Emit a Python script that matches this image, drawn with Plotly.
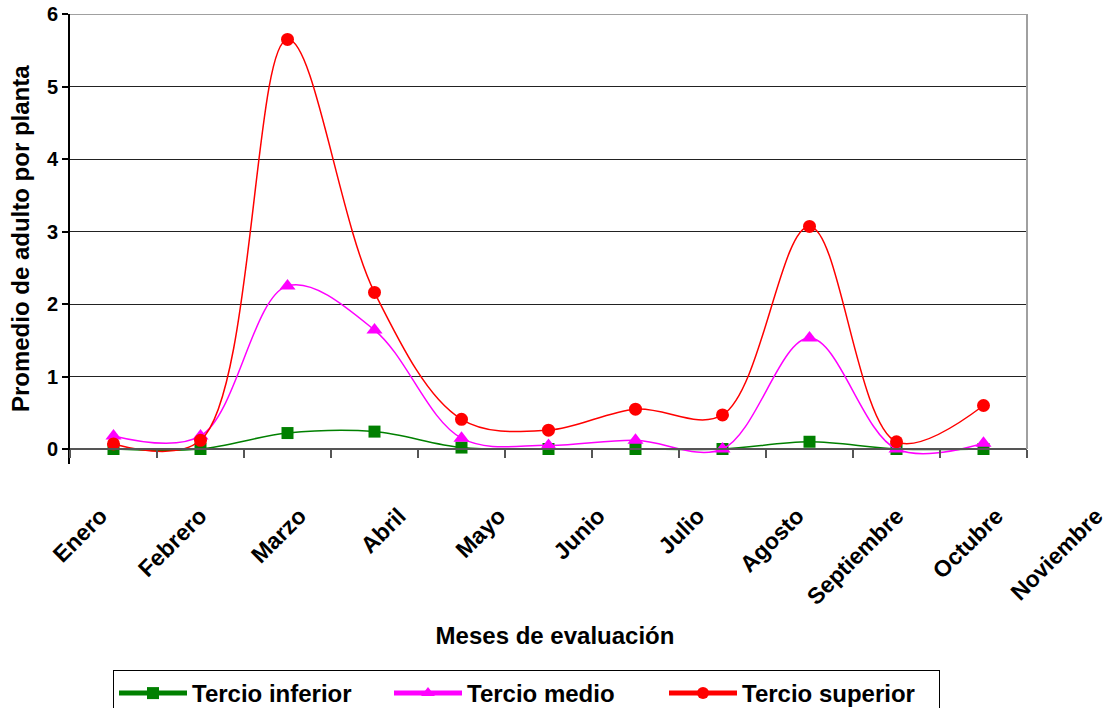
import plotly.graph_objects as go

meses = ["Enero", "Febrero", "Marzo", "Abril", "Mayo", "Junio", "Julio",
         "Agosto", "Septiembre", "Octubre", "Noviembre"]
tercio_inferior = [0.0, 0.0, 0.22, 0.24, 0.02, 0.0, 0.0, 0.0, 0.10, 0.0, 0.0]
tercio_medio = [0.18, 0.18, 2.25, 1.64, 0.15, 0.05, 0.12, 0.0, 1.53, 0.0, 0.08]
tercio_superior = [0.07, 0.12, 5.65, 2.16, 0.41, 0.26, 0.55, 0.47, 3.07, 0.10, 0.60]
y_ticks = [0, 1, 2, 3, 4, 5, 6]

W, H = 1110, 708
FONT = "Arial, Liberation Sans, sans-serif"

idx = list(range(len(meses)))

fig = go.Figure()
series = [
    ("Tercio inferior", tercio_inferior, "#008000", "square", 12),
    ("Tercio medio", tercio_medio, "#FF00FF", "triangle-up", 14),
    ("Tercio superior", tercio_superior, "#FF0000", "circle", 13),
]
for name, vals, col, sym, sz in series:
    fig.add_trace(go.Scatter(
        x=idx, y=vals, name=name, mode="lines+markers",
        line=dict(color=col, width=1.5, shape="spline", smoothing=1.0),
        marker=dict(color=col, symbol=sym, size=sz),
        cliponaxis=False,
    ))

# invisible helper trace so the month-label axis gets drawn
fig.add_trace(go.Scatter(
    x=[idx[0]], y=[0], xaxis="x2", yaxis="y2", mode="markers",
    marker=dict(opacity=0), showlegend=False, hoverinfo="skip",
))

y0px = 449
ytop = 14
px_per_unit = (y0px - ytop) / 6.0
ymin = -0.2
ybot = y0px + (-ymin) * px_per_unit

fig.update_layout(
    width=W, height=H,
    margin=dict(l=0, r=0, t=0, b=0, autoexpand=False),
    paper_bgcolor="white", plot_bgcolor="white",
    font=dict(family=FONT, color="black"),
    xaxis=dict(
        domain=[70 / W, 1027 / W],
        range=[-0.5, len(meses) - 0.5],
        anchor="free", position=1 - y0px / H,
        showgrid=False, zeroline=False,
        showline=True, linecolor="#555555", linewidth=2,
        ticks="outside", ticklen=8, tickcolor="#555555", tickwidth=2,
        tickmode="array", tickvals=[i - 0.5 for i in range(len(meses) + 1)],
        showticklabels=False,
    ),
    xaxis2=dict(
        domain=[0, 1],
        range=[-1.01, 10.14],
        anchor="free", position=1 - 497 / H,
        showgrid=False, zeroline=False, showline=False,
        ticks="", tickmode="array", tickvals=idx, ticktext=meses,
        tickangle=-45,
        tickfont=dict(family=FONT, size=23, color="black", weight="bold"),
        title=dict(text="<b>Meses de evaluación</b>",
                   font=dict(family=FONT, size=24, color="black"),
                   standoff=18),
    ),
    yaxis2=dict(
        domain=[0, 0.3], anchor="x2", visible=False, range=[-1, 1],
    ),
    yaxis=dict(
        domain=[1 - ybot / H, 1 - ytop / H],
        range=[ymin, 6],
        anchor="x",
        tickmode="array", tickvals=y_ticks,
        showgrid=True, gridcolor="#222222", gridwidth=1,
        zeroline=False,
        showline=True, linecolor="#000000", linewidth=2,
        ticks="outside", ticklen=6, tickcolor="#000000", tickwidth=2,
        tickfont=dict(family=FONT, size=20, color="black", weight="bold"),
        title=dict(text="<b>Promedio de adulto por planta</b>",
                   font=dict(family=FONT, size=24, color="black"),
                   standoff=10),
    ),
    legend=dict(
        orientation="h",
        x=113 / W, y=1 - 670 / H, xanchor="left", yanchor="top",
        bordercolor="#000000", borderwidth=1,
        font=dict(family=FONT, size=24, color="black", weight="bold"),
        entrywidth=192, itemwidth=68, itemsizing="constant",
    ),
    shapes=[
        dict(type="line", xref="x domain", yref="y", x0=0, x1=1, y0=6, y1=6,
             line=dict(color="#A0A0A0", width=2)),
        dict(type="line", xref="x domain", yref="y", x0=1, x1=1, y0=0, y1=6,
             line=dict(color="#A0A0A0", width=2)),
    ],
    showlegend=True,
)

fig.write_html(
    "out.html",
    config={"displayModeBar": False},
    post_script="document.body.style.margin='0px';document.body.style.overflow='hidden';",
)
